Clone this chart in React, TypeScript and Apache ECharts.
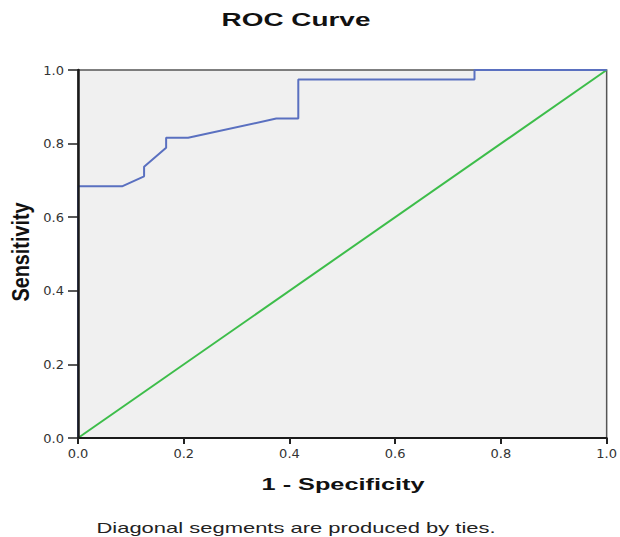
import React, { useEffect, useRef } from "react";
import * as echarts from "echarts";

const fprValues = [0, 0, 0.0833, 0.125, 0.125, 0.1667, 0.1667, 0.2083, 0.375, 0.4167, 0.4167, 0.75, 0.75, 1];
const tprValues = [0, 0.684, 0.684, 0.711, 0.737, 0.789, 0.816, 0.816, 0.868, 0.868, 0.974, 0.974, 1, 1];
const diagonalX = [0, 1];
const diagonalY = [0, 1];
const titleText = "ROC Curve";
const xAxisTitle = "1 - Specificity";
const yAxisTitle = "Sensitivity";
const footnote = "Diagonal segments are produced by ties.";

export default function App() {
  const ref = useRef<HTMLDivElement>(null);
  useEffect(() => {
    const chart = echarts.init(ref.current!, null, { renderer: "svg" });
    const font = "'Liberation Sans', Arial, sans-serif";
    const tickFont = "'DejaVu Sans', sans-serif";
    chart.setOption({
      animation: false,
      backgroundColor: "#ffffff",
      graphic: [
        {
          type: "text",
          x: 296,
          y: 20,
          scaleX: 1.55,
          style: {
            text: titleText,
            x: 0,
            y: 0,
            textAlign: "center",
            textVerticalAlign: "middle",
            font: `bold 18px ${font}`,
            fill: "#111",
          },
        },
        {
          type: "text",
          x: 343,
          y: 484,
          scaleX: 1.58,
          style: {
            text: xAxisTitle,
            x: 0,
            y: 0,
            textAlign: "center",
            textVerticalAlign: "middle",
            font: `bold 16px ${font}`,
            fill: "#111",
          },
        },
        {
          type: "text",
          x: 21,
          y: 252,
          rotation: Math.PI / 2,
          scaleX: 1.24,
          scaleY: 1.5,
          style: {
            text: yAxisTitle,
            x: 0,
            y: 0,
            textAlign: "center",
            textVerticalAlign: "middle",
            font: `bold 16px ${font}`,
            fill: "#111",
          },
        },
        {
          type: "text",
          x: 296,
          y: 528,
          scaleX: 1.57,
          style: {
            text: footnote,
            x: 0,
            y: 0,
            textAlign: "center",
            textVerticalAlign: "middle",
            font: `14px ${font}`,
            fill: "#222",
          },
        },
      ],
      grid: {
        left: 78,
        right: 12,
        top: 70,
        bottom: 99,
        show: true,
        backgroundColor: "#f0f0f0",
        borderColor: "#555",
        borderWidth: 1.5,
      },
      xAxis: {
        type: "value",
        min: 0,
        max: 1,
        interval: 0.2,
        z: 5,
        axisLine: { show: true, onZero: false, lineStyle: { color: "#1a1a1a", width: 2 } },
        axisTick: { show: true, inside: false, length: 6, lineStyle: { color: "#222", width: 2 } },
        axisLabel: {
          fontFamily: tickFont,
          fontSize: 13,
          color: "#333",
          margin: 9,
          formatter: (v: number) => v.toFixed(1),
        },
        splitLine: { show: false },
      },
      yAxis: {
        type: "value",
        min: 0,
        max: 1,
        interval: 0.2,
        z: 5,
        axisLine: { show: true, onZero: false, lineStyle: { color: "#1a1a1a", width: 2.5 } },
        axisTick: { show: true, inside: false, length: 10, lineStyle: { color: "#222", width: 1.5 } },
        axisLabel: {
          fontFamily: tickFont,
          fontSize: 13,
          color: "#333",
          margin: 14,
          formatter: (v: number) => v.toFixed(1),
        },
        splitLine: { show: false },
      },
      series: [
        {
          type: "line",
          data: diagonalX.map((x, i) => [x, diagonalY[i]]),
          symbol: "none",
          lineStyle: { color: "#3dbd4a", width: 2 },
          z: 2,
        },
        {
          type: "line",
          data: fprValues.map((x, i) => [x, tprValues[i]]),
          symbol: "none",
          lineStyle: { color: "#5a70c0", width: 2 },
          z: 3,
        },
      ],
    });
    return () => chart.dispose();
  }, []);
  return <div ref={ref} style={{ position: "fixed", left: 0, top: 0, width: 620, height: 537 }} />;
}
